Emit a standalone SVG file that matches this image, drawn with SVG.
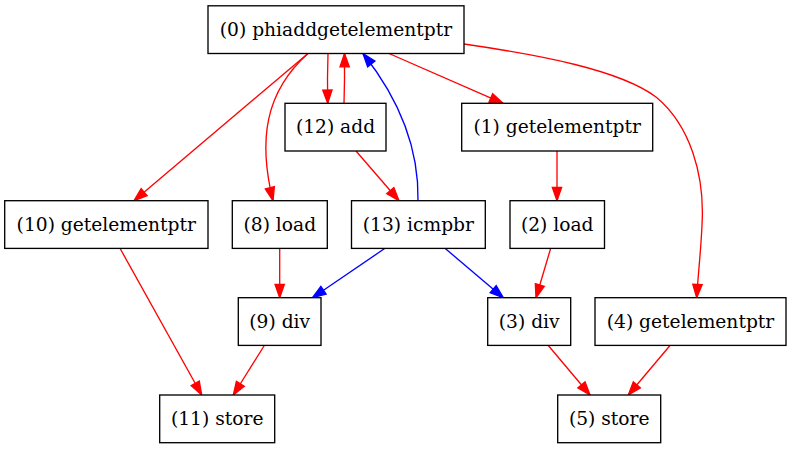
<svg xmlns="http://www.w3.org/2000/svg" width="791" height="449" viewBox="0 0 791 449">
<defs>
<style>
.n rect{fill:#fff;stroke:#000;stroke-width:1.33}
.n text{font-family:"DejaVu Serif",serif;font-size:18.67px;text-anchor:middle;fill:#000}
.e path{fill:none;stroke-width:1.33}
.r{stroke:#f00;marker-end:url(#ar)}
.b{stroke:#00f;marker-end:url(#ab)}
</style>
<marker id="ar" markerUnits="userSpaceOnUse" markerWidth="15" markerHeight="11" refX="13.3" refY="4.67" orient="auto" overflow="visible"><path d="M0,0 L13.3,4.67 L0,9.33 z" fill="#f00" stroke="#f00" stroke-width="1.33"/></marker>
<marker id="ab" markerUnits="userSpaceOnUse" markerWidth="15" markerHeight="11" refX="13.3" refY="4.67" orient="auto" overflow="visible"><path d="M0,0 L13.3,4.67 L0,9.33 z" fill="#00f" stroke="#00f" stroke-width="1.33"/></marker>
</defs>
<rect width="791" height="449" fill="#fff"/>
<g id="edges" class="e">
<path class="r" d="M328,53.5 C327.5,68 327.3,85 327.7,103.3"/>
<path class="r" d="M344,103.3 C344.5,88 344.7,70 344.5,53.5"/>
<path class="b" d="M418,200.7 C419,150 400,100 363,53.5"/>
<path class="r" d="M389,53.5 L503,103.3"/>
<path class="r" d="M464,44 C540,55 620,70 656,97 C690,125 705,175 702,225 C701,250 698,275 696.7,297.7"/>
<path class="r" d="M308,53.5 L134,200.7"/>
<path class="r" d="M308,53.5 C265,92 258,140 273,200.7"/>
<path class="r" d="M356,151 L399,200.7"/>
<path class="r" d="M557,151 L557,200.7"/>
<path class="r" d="M279.7,248.3 L279.7,297.7"/>
<path class="b" d="M385,248.3 L312.5,297.7"/>
<path class="b" d="M445,248.3 L503.3,297.7"/>
<path class="r" d="M550.7,248.3 L536,297.7"/>
<path class="r" d="M120,248.3 L201.7,395"/>
<path class="r" d="M264.3,345.5 L233.3,395"/>
<path class="r" d="M548.3,345.5 L590,395"/>
<path class="r" d="M670,345.5 L628.3,395"/>
</g>
<g id="node0" class="n"><rect x="208" y="5.8" width="256" height="47.7"/><text x="336" y="35.7">(0) phiaddgetelementptr</text></g>
<g id="node12" class="n"><rect x="285" y="103.3" width="101" height="47.7"/><text x="335.5" y="133.2">(12) add</text></g>
<g id="node1" class="n"><rect x="461.7" y="103.3" width="191" height="47.7"/><text x="557.2" y="133.2">(1) getelementptr</text></g>
<g id="node10" class="n"><rect x="4.7" y="200.7" width="203.3" height="47.7"/><text x="106.3" y="230.6">(10) getelementptr</text></g>
<g id="node8" class="n"><rect x="232.3" y="200.7" width="95" height="47.7"/><text x="279.8" y="230.6">(8) load</text></g>
<g id="node13" class="n"><rect x="351.5" y="200.7" width="133.8" height="47.7"/><text x="418.4" y="230.6">(13) icmpbr</text></g>
<g id="node2" class="n"><rect x="510" y="200.7" width="94.5" height="47.7"/><text x="557.2" y="230.6">(2) load</text></g>
<g id="node9" class="n"><rect x="238.3" y="297.7" width="82.7" height="47.7"/><text x="279.7" y="327.6">(9) div</text></g>
<g id="node3" class="n"><rect x="487.7" y="297.7" width="83" height="47.7"/><text x="529.2" y="327.6">(3) div</text></g>
<g id="node4" class="n"><rect x="595" y="297.7" width="191" height="47.7"/><text x="690.5" y="327.6">(4) getelementptr</text></g>
<g id="node11" class="n"><rect x="159.7" y="395" width="115" height="47.7"/><text x="217.2" y="424.9">(11) store</text></g>
<g id="node5" class="n"><rect x="557.7" y="395" width="103" height="47.7"/><text x="609.2" y="424.9">(5) store</text></g>
</svg>
